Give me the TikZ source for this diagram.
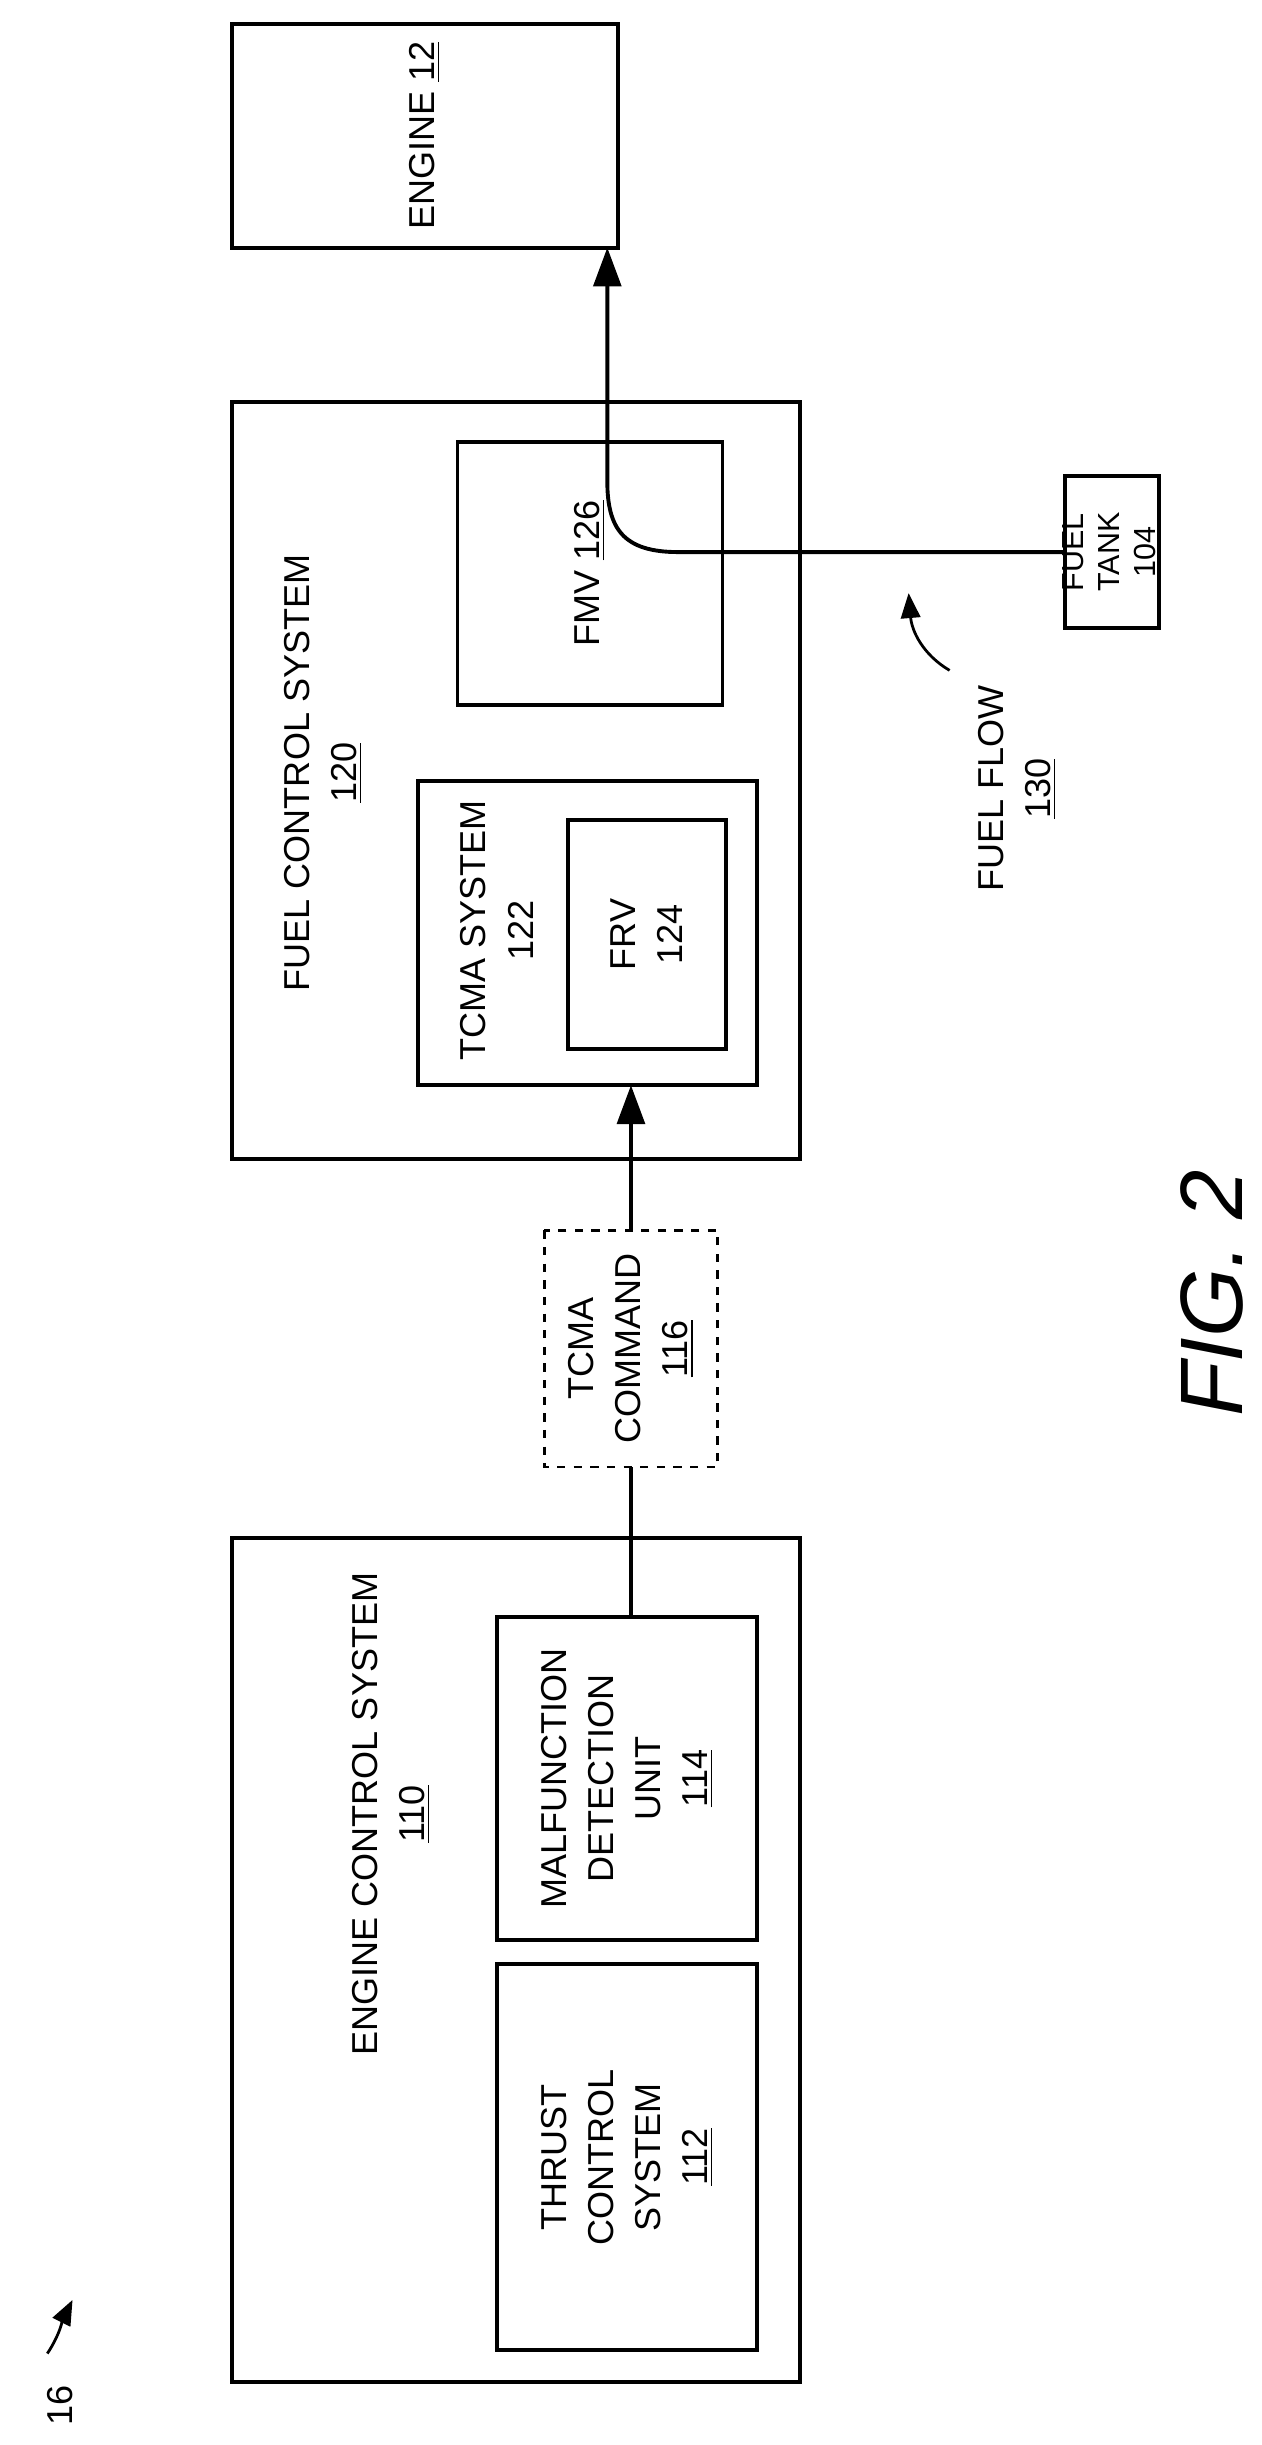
\documentclass[tikz,border=0pt]{standalone}
\usepackage{fontspec}
\setmainfont{Liberation Sans}
\usetikzlibrary{arrows.meta}
\begin{document}
\begin{tikzpicture}[x=0.02cm,y=-0.02cm]
	% Define styles
	\tikzset{box/.style={draw, line width=1.4pt, inner sep=0pt},
		lbl/.style={rotate=90, align=center, font=\fontsize{13}{17}\selectfont},
		line/.style={draw, line width=1.4pt},
		arr/.style={line, -{Triangle[length=14pt,width=10pt]}}}
	\useasboundingbox (0,0) rectangle (800,1550);
	% Place boxes
	\draw [box] (147,15) rectangle (392,157) node[lbl, midway] (eng) {ENGINE \underline{12}};
	\draw [box] (147,975) rectangle (507,1510);
	\node [lbl] (ecs) at (248,1150) {ENGINE CONTROL SYSTEM\\\underline{110}};
	\draw [box] (315,1245) rectangle (480,1490) node[lbl, midway] (tcs) {THRUST\\CONTROL\\SYSTEM\\\underline{112}};
	\draw [box] (315,1025) rectangle (480,1230) node[lbl, midway] (mdu) {MALFUNCTION\\DETECTION\\UNIT\\\underline{114}};
	\draw [box, dashed, line width=1pt] (345,780) rectangle (455,930) node[lbl, midway] (cmd) {TCMA\\COMMAND\\\underline{116}};
	\draw [box] (147,255) rectangle (507,735);
	\node [lbl] (fcs) at (205,490) {FUEL CONTROL SYSTEM\\\underline{120}};
	\draw [box] (265,495) rectangle (480,688);
	\node [lbl] (tsys) at (315,590) {TCMA SYSTEM\\122};
	\draw [box] (360,520) rectangle (460,665) node[lbl, midway] (frv) {FRV\\124};
	\draw [box] (290,280) rectangle (458,447) node[lbl, midway] (fmv) {FMV \underline{126}};
	\draw [box] (675,302) rectangle (735,398) node[lbl, midway, font=\fontsize{11}{13}\selectfont] (tank) {FUEL\\TANK\\\underline{104}};
	% Connectors
	\coordinate (mduTop) at (400,1025);
	\coordinate (cmdBot) at (400,930);
	\coordinate (cmdTop) at (400,780);
	\coordinate (tsysBot) at (400,688);
	\draw [line] (mduTop) -- (cmdBot);
	\draw [arr] (cmdTop) -- (tsysBot);
	\coordinate (tankL) at (675,350);
	\coordinate (engB) at (385,157);
	\draw [arr] (tankL) -- (430,350) .. controls (395,350) and (385,335) .. (385,305) -- (engB);
	% Labels
	\node [lbl] (flow) at (645,500) {FUEL FLOW\\\underline{130}};
	\draw [arr, line width=1pt, -{Triangle[length=9pt,width=7pt]}] (602,425) .. controls (585,415) and (578,400) .. (576,376);
	\node [rotate=90, font=\itshape\fontsize{32}{32}\selectfont] (fig) at (768,820) {FIG. 2};
	\node [lbl] (num) at (38,1525) {16};
	\draw [arr, line width=1pt, -{Triangle[length=9pt,width=7pt]}] (30,1492) .. controls (38,1480) and (40,1470) .. (46,1458);
\end{tikzpicture}
\end{document}
